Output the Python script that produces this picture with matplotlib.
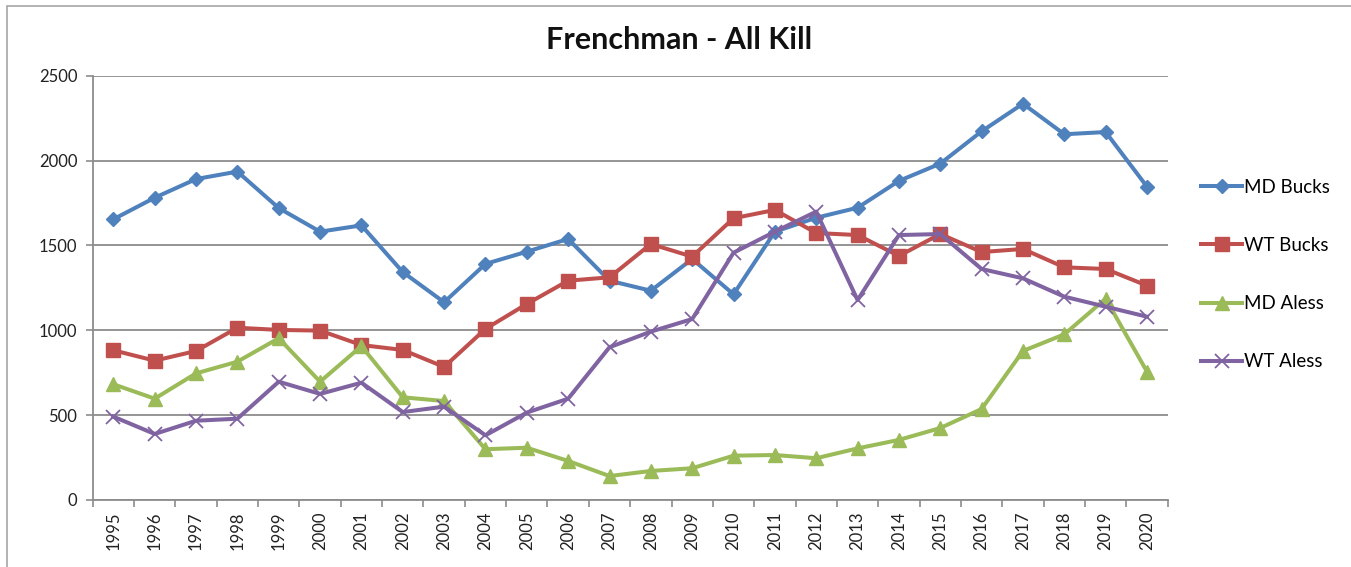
import matplotlib.pyplot as plt
from matplotlib.patches import Rectangle

# data
years = [str(y) for y in range(1995, 2021)]
md_bucks = [1654, 1781, 1891, 1935, 1720, 1581, 1618, 1343, 1165, 1391,
            1463, 1538, 1292, 1233, 1420, 1212, 1581, 1663, 1722, 1880,
            1982, 2172, 2335, 2155, 2168, 1846]
wt_bucks = [882, 821, 878, 1015, 1002, 998, 913, 884, 784, 1008,
            1155, 1292, 1312, 1508, 1434, 1660, 1709, 1573, 1561, 1438,
            1567, 1461, 1479, 1371, 1361, 1263]
md_aless = [682, 597, 746, 815, 953, 697, 907, 605, 583, 299,
            308, 230, 141, 171, 187, 261, 265, 246, 304, 354,
            424, 536, 878, 976, 1186, 756]
wt_aless = [491, 389, 467, 479, 697, 625, 691, 518, 550, 381,
            515, 597, 900, 992, 1066, 1457, 1581, 1699, 1178, 1561,
            1567, 1361, 1306, 1198, 1139, 1080]
y_ticks = [0, 500, 1000, 1500, 2000, 2500]

plt.rcParams['font.family'] = ['Lato', 'DejaVu Sans']

fig = plt.figure(figsize=(13.51, 5.67), dpi=100)
ax = fig.add_axes([0.0686, 0.1182, 0.7957, 0.7483])

# outer chart frame like the spreadsheet chart area
fig.patches.append(Rectangle((7 / 1351, -0.05), 1.1, (567 - 6) / 567 + 0.05,
                             transform=fig.transFigure, fill=False,
                             edgecolor='#a6a6a6', linewidth=1.2))

x = list(range(len(years)))
ax.plot(x, md_bucks, color='#4F81BD', linewidth=2.9, marker='D', markersize=7.5, label='MD Bucks')
ax.plot(x, wt_bucks, color='#C0504D', linewidth=2.9, marker='s', markersize=10, label='WT Bucks')
ax.plot(x, md_aless, color='#9BBB59', linewidth=2.9, marker='^', markersize=10, label='MD Aless')
ax.plot(x, wt_aless, color='#8064A2', linewidth=2.9, marker='x', markersize=10,
        markeredgewidth=1.3, label='WT Aless')

ax.set_xlim(-0.5, len(years) - 0.5)
ax.set_ylim(0, 2500)
ax.set_yticks(y_ticks)
ax.set_yticklabels([str(v) for v in y_ticks], fontsize=12, color='#222222')
ax.yaxis.grid(True, color='#8c8c8c', linewidth=1.3)
ax.set_axisbelow(True)

# labels at category centres, tick marks between categories
ax.set_xticks(x)
ax.set_xticklabels(years, rotation=90, fontsize=12, color='#222222')
ax.tick_params(axis='x', length=0, pad=8)
ax.set_xticks([i - 0.5 for i in range(len(years) + 1)], minor=True)
ax.tick_params(axis='x', which='minor', length=5, color='#8c8c8c', width=1.2)
ax.tick_params(axis='y', length=5, color='#8c8c8c', width=1.2, pad=6)

for side in ['top', 'right']:
    ax.spines[side].set_visible(False)
for side in ['left', 'bottom']:
    ax.spines[side].set_color('#8c8c8c')
    ax.spines[side].set_linewidth(1.3)

fig.text(0.503, 0.930, 'Frenchman - All Kill', ha='center', va='center',
         fontsize=22, fontweight='bold', color='#111111')

ax.legend(loc='upper left', bbox_to_anchor=(1.024, 0.775), frameon=False,
          fontsize=13.5, labelspacing=2.2, handlelength=2.2, handletextpad=0.1,
          borderaxespad=0)

fig.savefig('out.png', dpi=100)
